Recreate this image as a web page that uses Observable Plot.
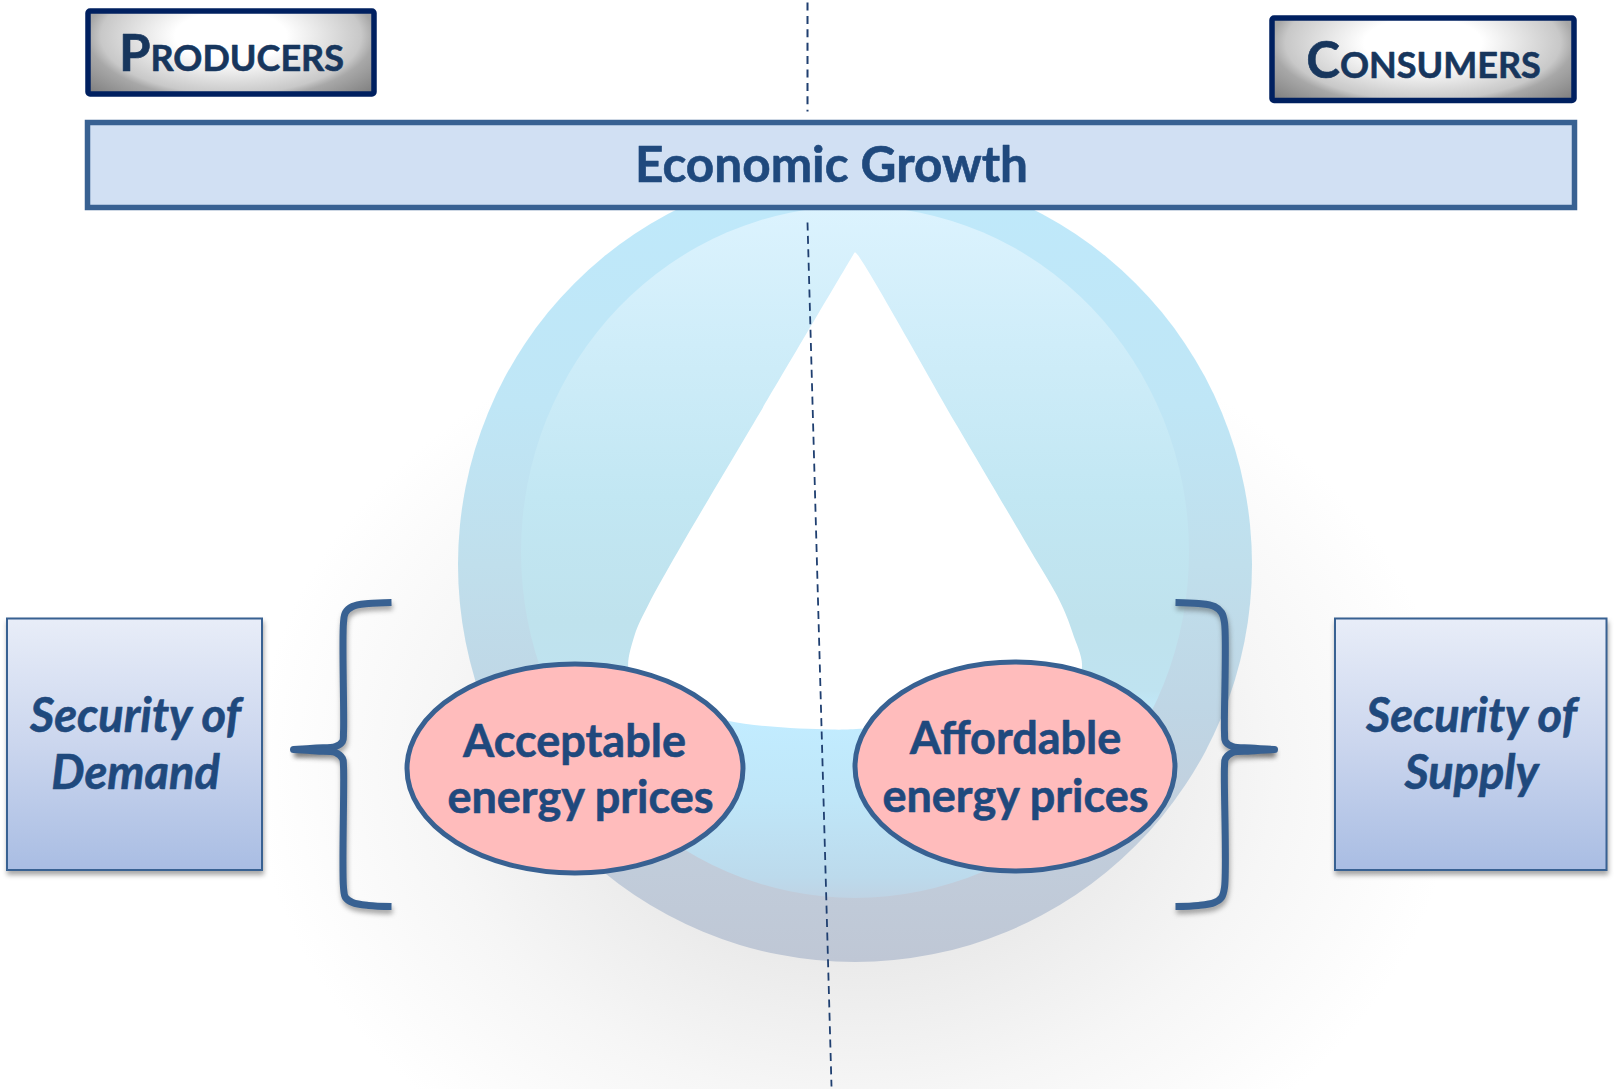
<!DOCTYPE html>
<html><head><meta charset="utf-8">
<script src="https://cdn.jsdelivr.net/npm/d3@7"></script>
<script src="https://cdn.jsdelivr.net/npm/@observablehq/plot@0.6"></script>
<style>
html,body{margin:0;padding:0;background:#fff}
svg{display:block}
svg text{font-family:Lato,"Open Sans",sans-serif}
.sc text, text.sc{font-variant:small-caps}
.shadow{filter:drop-shadow(1px 4px 2.5px rgba(60,60,60,.45))}
</style></head><body><div id="chart"></div>
<script>
// Layout, in reference pixels
const shadowBox  = [{x1:255,x2:1455,y1:300,y2:1240}];
const outerOrb   = [{x1:458,x2:1252,y1:167,y2:962}];
const innerOrb   = [{x1:521,x2:1189,y1:206,y2:898}];
const dropOutline = [[854,252],[855,252],[957,426],[1030,550],[1059,600],[1072,632],[1081,669],[1060,690],[960,719],[863,728],[830,729],[726,720],[640,690],[628,669],[634,635],[648,604],[678,550],[750,428],[854,252]];
const dividerTop = [[807,2],[807,111]];
const dividerLow = [[807,222],[831,1086]];
const growthBar  = [{x1:87.5,x2:1574.5,y1:122.5,y2:207.5}];
const producerBox= [{x1:88,x2:374,y1:11,y2:94}];
const consumerBox= [{x1:1272,x2:1574,y1:18,y2:100.5}];
const sideBoxes  = [{x1:7,x2:262,y1:618.5,y2:870},{x1:1335,x2:1606.5,y1:618.5,y2:870}];
const ellipseA   = [{x1:407,x2:743,y1:664,y2:873}];
const ellipseB   = [{x1:855,x2:1175,y1:662,y2:871}];
const braceLeftTop  = [[391,602],[368,603],[352,606],[345,612],[343,622],[343,732],[342,741],[335,746],[316,747.5],[293,749]];
const braceLeftLow  = [[293,749],[316,750.5],[335,752],[342,758],[343,766],[343,887],[345,897],[352,902],[368,905],[391,906]];
const braceRightTop = [[1175,602],[1198,603],[1214,606],[1221,612],[1224,622],[1224,732],[1225,741],[1232,746],[1250,747.5],[1274,749]];
const braceRightLow = [[1274,749],[1250,750.5],[1232,752],[1225,758],[1224,766],[1224,887],[1221,897],[1214,902],[1198,905],[1175,906]];
const braceTips = [[293,749],[1274,749]];
const labelProducers = [{t:"Producers",x:231,y:70}];
const labelConsumers = [{t:"Consumers",x:1423,y:77}];
const labelGrowth = [{t:"Economic Growth",x:831,y:181}];
const labelSecurity = [{t:"Security of",x:135,y:731},{t:"Demand",x:135,y:788.5},{t:"Security of",x:1471,y:731},{t:"Supply",x:1471,y:788.5}];
const labelEllipses = [{t:"Acceptable",x:574,y:756},{t:"energy prices",x:580,y:812},{t:"Affordable",x:1015,y:753},{t:"energy prices",x:1015,y:811}];

const box = {x1:"x1",x2:"x2",y1:"y1",y2:"y2"};
const stops = a => a.map(([o,c])=>`<stop offset="${o}" stop-color="${c}"/>`).join("");
const defs = () => {
  const d = d3.create("svg:defs");
  d.html(`
  <linearGradient id="outer" x1="0" y1="0" x2="0" y2="1">${stops([[0,"#bfe9fb"],[.3,"#bfe6f6"],[.5,"#c0dfec"],[.68,"#bfd6e5"],[.82,"#c2cfdd"],[1,"#bfc7d5"]])}</linearGradient>
  <linearGradient id="inner" x1="0" y1="0" x2="0" y2="1">${stops([[0,"#dcf3fe"],[.2,"#cfedf9"],[.42,"#c2e7f3"],[.6,"#bfe2ed"],[.7,"#bfe3f0"],[.745,"#c2ecff"],[.86,"#bfe6f8"],[.97,"#bcdaec"],[1,"#bfd3e4"]])}</linearGradient>
  <radialGradient id="shade" cx=".5" cy=".5" r=".5">${stops([[0,"#e4e4e4"],[.4,"#eaeaea"],[.7,"#f6f6f6"],[1,"#ffffff"]])}</radialGradient>
  <radialGradient id="steel" gradientUnits="objectBoundingBox" cx="0" cy="0" r="1" gradientTransform="translate(.5 .3) scale(.65 1)">${stops([[0,"#ffffff"],[.3,"#ffffff"],[.7,"#c8c8c8"],[.77,"#a8a8a8"],[1,"#828282"]])}</radialGradient>
  <linearGradient id="side" x1="0" y1="0" x2="0" y2="1">${stops([[0,"#e8edf8"],[.5,"#cbd6ee"],[1,"#a9bde3"]])}</linearGradient>`);
  return d.node();
};
const brace = pts => Plot.line(pts,{curve:"catmull-rom",stroke:"#386192",strokeWidth:7,strokeLinecap:"butt",strokeLinejoin:"round",className:"shadow"});
const label = (rows,size,color,extra={}) => Plot.text(rows,{text:"t",x:"x",y:"y",lineAnchor:"bottom",fontSize:size,fontWeight:700,fill:color,stroke:color,strokeWidth:.6,...extra});

const chart = Plot.plot({
  width:1614,height:1089,margin:0,
  x:{axis:null,domain:[0,1614],range:[0,1614]},
  y:{axis:null,domain:[0,1089],range:[0,1089]},
  style:{background:"#fff"},
  marks:[
    defs,
    Plot.rect(shadowBox,{...box,fill:"url(#shade)"}),
    Plot.rect(outerOrb,{...box,rx:397,ry:397.5,fill:"url(#outer)"}),
    Plot.rect(innerOrb,{...box,rx:334,ry:346,fill:"url(#inner)"}),
    Plot.line(dropOutline,{curve:"catmull-rom-closed",fill:"#fff",stroke:"none"}),
    Plot.line(dividerTop,{stroke:"#1f3f70",strokeWidth:2,strokeDasharray:"8,5.4",strokeLinecap:"butt"}),
    Plot.line(dividerLow,{stroke:"#1f3f70",strokeWidth:1.8,strokeDasharray:"8,5.4",strokeLinecap:"butt"}),
    Plot.rect(growthBar,{...box,fill:"#d1e0f3",stroke:"#386192",strokeWidth:5.5}),
    Plot.rect(producerBox,{...box,rx:2,ry:2,fill:"url(#steel)",stroke:"#002060",strokeWidth:5.5}),
    Plot.rect(consumerBox,{...box,rx:2,ry:2,fill:"url(#steel)",stroke:"#002060",strokeWidth:5.5}),
    Plot.rect(sideBoxes,{...box,fill:"url(#side)",stroke:"#386192",strokeWidth:2,className:"shadow"}),
    brace(braceLeftTop),brace(braceLeftLow),brace(braceRightTop),brace(braceRightLow),
    Plot.dot(braceTips,{r:3.5,fill:"#386192",stroke:"none"}),
    Plot.rect(ellipseA,{...box,rx:168,ry:104.5,fill:"#ffbcbc",stroke:"#386192",strokeWidth:5}),
    Plot.rect(ellipseB,{...box,rx:160,ry:104.5,fill:"#ffbcbc",stroke:"#386192",strokeWidth:5}),
    label(labelProducers,51,"#17365d",{className:"sc"}),
    label(labelConsumers,51,"#17365d",{className:"sc"}),
    label(labelGrowth,49.5,"#1f497d"),
    label(labelSecurity,47,"#1f497d",{fontStyle:"italic"}),
    label(labelEllipses,45,"#1f497d")
  ]
});
document.getElementById("chart").append(chart);
</script></body></html>
